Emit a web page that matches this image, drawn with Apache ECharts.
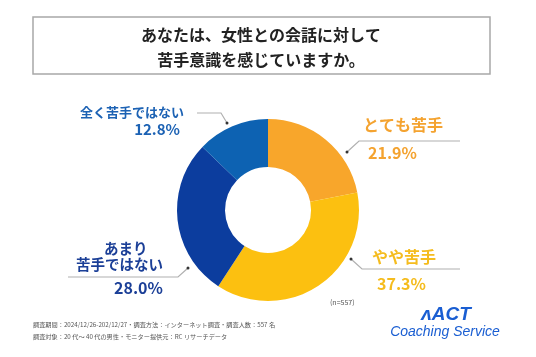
<!DOCTYPE html>
<html><head><meta charset="utf-8">
<script src="https://cdn.jsdelivr.net/npm/echarts@6/dist/echarts.min.js"></script>
<style>html,body{margin:0;padding:0;background:#fff}#c{width:536px;height:357px}</style>
</head><body><div id="c"></div>
<script>
const categories = ['とても苦手', 'やや苦手', 'あまり苦手ではない', '全く苦手ではない'];
const values = [21.9, 37.3, 28.0, 12.8];
const sampleNote = '(n=557)';
const titleLines = ['あなたは、女性との会話に対して', '苦手意識を感じていますか。'];
const footerLines = [
  '調査期間：2024/12/26-202/12/27・調査方法：インターネット調査・調査人数：557 名',
  '調査対象：20 代～ 40 代の男性・モニター提供元：RC リサーチデータ'
];

const sliceColors = ['#F8A62B', '#FCC010', '#0C3D9E', '#0D62B2'];
const labelColors = ['#F4A330', '#F5BC1E', '#1B3F97', '#1C62B4'];
const FONT = '"Noto Sans CJK JP", "Noto Sans", sans-serif';

// label placement (style only)
const layouts = [
  {x: 363, y: 139, align: 'left', verticalAlign: 'middle', labelLinePoints: [[347, 152], [359, 141], [460, 141]]},
  {x: 372, y: 270.5, align: 'left', verticalAlign: 'middle', labelLinePoints: [[351, 259], [362, 269], [460, 269]]},
  {x: 76, y: 272, align: 'left', verticalAlign: 'middle', labelLinePoints: [[188, 268], [178, 277], [68, 277]]},
  {x: 184, y: 120.5, align: 'right', verticalAlign: 'middle', labelLinePoints: [[227, 123], [221, 113], [197, 113]]}
];

function richFor(i) {
  const c = labelColors[i];
  const base = {color: c, fontFamily: FONT, fontWeight: 'bold', fontSize: 16};
  if (i === 0) return {n: {...base, lineHeight: 28}, v: {...base, lineHeight: 28, padding: [0, 0, 0, 5]}};
  if (i === 1) return {n: {...base, lineHeight: 27}, v: {...base, lineHeight: 27, padding: [0, 0, 0, 5]}};
  if (i === 2) return {
    a: {...base, fontSize: 14.5, lineHeight: 16, padding: [0, 0, 0, 28]},
    n: {...base, fontSize: 14.5, lineHeight: 16},
    v: {...base, lineHeight: 32, padding: [0, 0, 0, 38]}
  };
  return {n: {...base, fontSize: 13, lineHeight: 17}, v: {...base, fontSize: 15, lineHeight: 17, padding: [0, 4, 0, 0]}};
}

function fmt(p) {
  const v = p.value.toFixed(1) + '%';
  if (p.dataIndex === 2) return '{a|あまり}\n{n|苦手ではない}\n{v|' + v + '}';
  return '{n|' + p.name + '}\n{v|' + v + '}';
}

const data = categories.map((name, i) => ({
  name, value: values[i],
  itemStyle: {color: sliceColors[i]},
  label: {rich: richFor(i)}
}));

const chart = echarts.init(document.getElementById('c'), null, {renderer: 'canvas'});
const dots = layouts.map(l => ({
  type: 'circle', shape: {cx: l.labelLinePoints[0][0], cy: l.labelLinePoints[0][1], r: 1.5},
  style: {fill: '#333'}, z: 10
}));
chart.setOption({
  backgroundColor: '#fff',
  animation: false,
  graphic: [
    {type: 'rect', shape: {x: 33, y: 17, width: 457, height: 57}, style: {fill: 'none', stroke: '#A8A8A8', lineWidth: 1.5}, z: -1},
    {type: 'text', x: 261, y: 35, style: {text: titleLines[0], font: 'bold 16px ' + FONT, fill: '#222', align: 'center', verticalAlign: 'middle'}},
    {type: 'text', x: 261, y: 60, style: {text: titleLines[1], font: 'bold 16px ' + FONT, fill: '#222', align: 'center', verticalAlign: 'middle'}},
    ...dots,
    {type: 'text', x: 330, y: 302, style: {text: sampleNote, font: '7px ' + FONT, fill: '#555', verticalAlign: 'middle'}},
    {type: 'text', x: 33, y: 325, style: {text: footerLines[0], font: '6.2px ' + FONT, fill: '#555', verticalAlign: 'middle'}},
    {type: 'text', x: 33, y: 337, style: {text: footerLines[1], font: '6.2px ' + FONT, fill: '#555', verticalAlign: 'middle'}},
    {type: 'text', x: 446, y: 315, style: {text: 'ʌACT', font: 'italic bold 19px "Liberation Sans", Arial, sans-serif', fill: '#1A5ED2', align: 'center', verticalAlign: 'middle'}},
    {type: 'text', x: 445, y: 332, style: {text: 'Coaching Service', font: 'italic 14px "Liberation Sans", Arial, sans-serif', fill: '#1A5ED2', align: 'center', verticalAlign: 'middle'}}
  ],
  series: [{
    type: 'pie',
    center: [268, 210],
    radius: [43, 91],
    startAngle: 90,
    clockwise: true,
    data,
    label: {show: true, position: 'outside', formatter: fmt},
    labelLine: {show: true, lineStyle: {color: '#B0B0B0', width: 1.2}},
    labelLayout: p => ({...layouts[p.dataIndex]})
  }]
});
</script></body></html>
